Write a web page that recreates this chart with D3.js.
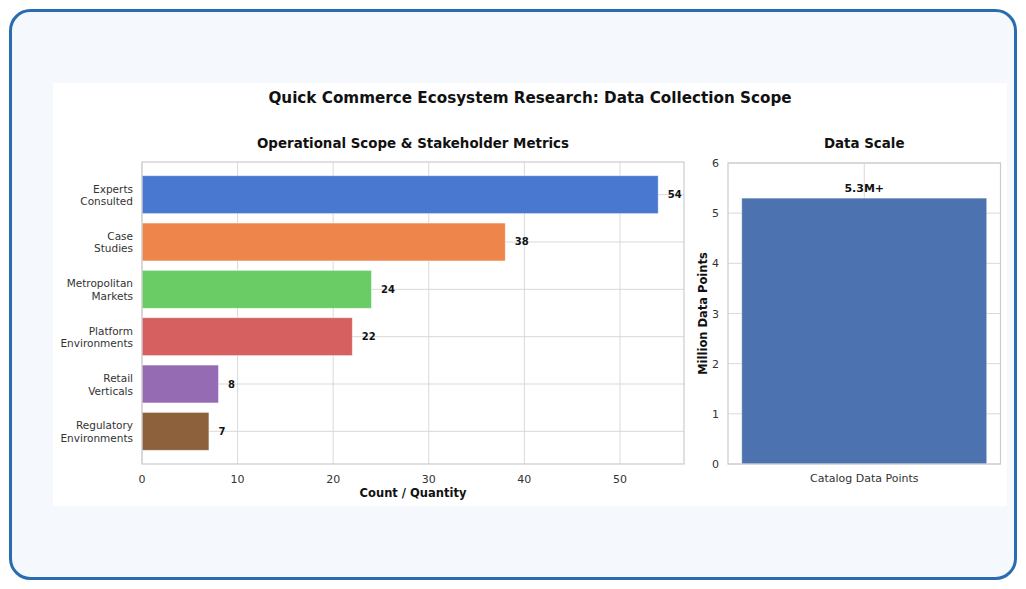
<!DOCTYPE html>
<html>
<head>
<meta charset="utf-8">
<script src="https://cdn.jsdelivr.net/npm/d3@7"></script>
<style>
  html, body { margin: 0; padding: 0; background: #ffffff; }
  svg { display: block; font-family: "DejaVu Sans", sans-serif; }
</style>
</head>
<body>
<svg id="chart" width="1026" height="589"></svg>
<script>
// ---- Data ----
const categories = [
  ["Experts", "Consulted"],
  ["Case", "Studies"],
  ["Metropolitan", "Markets"],
  ["Platform", "Environments"],
  ["Retail", "Verticals"],
  ["Regulatory", "Environments"]
];
const counts = [54, 38, 24, 22, 8, 7];
const barColors = ["#4878d0", "#ee854a", "#6acc64", "#d65f5f", "#956cb4", "#8c613c"];
const xTicks = [0, 10, 20, 30, 40, 50];

const scaleCategories = ["Catalog Data Points"];
const scaleValues = [5.3];
const scaleLabels = ["5.3M+"];
const yTicksRight = [0, 1, 2, 3, 4, 5, 6];

const mainTitle = "Quick Commerce Ecosystem Research: Data Collection Scope";
const leftTitle = "Operational Scope & Stakeholder Metrics";
const rightTitle = "Data Scale";
const leftXLabel = "Count / Quantity";
const rightYLabel = "Million Data Points";

// ---- Frame ----
const svg = d3.select("#chart");
svg.append("rect").attr("x", 0).attr("y", 0).attr("width", 1026).attr("height", 589).attr("fill", "#ffffff");
svg.append("rect")
  .attr("x", 10.5).attr("y", 10.5).attr("width", 1005).attr("height", 568)
  .attr("rx", 20).attr("ry", 20)
  .attr("fill", "#f5f8fc").attr("stroke", "#2a6cb0").attr("stroke-width", 3);
svg.append("rect")
  .attr("x", 53).attr("y", 83).attr("width", 954).attr("height", 423)
  .attr("fill", "#ffffff");

svg.append("text")
  .attr("x", 530).attr("y", 103)
  .attr("text-anchor", "middle")
  .attr("font-size", 15.2).attr("font-weight", "bold").attr("fill", "#111")
  .text(mainTitle);

const gridColor = "#d9d9d9";
const spineColor = "#cccccc";
const tickColor = "#333333";

// ---- Left chart ----
const L = { left: 142, right: 684, top: 162, bottom: 464 };
const x = d3.scaleLinear().domain([0, d3.max(counts) * 1.05]).range([L.left, L.right]);
const y = d3.scaleLinear().domain([-0.69, counts.length - 1 + 0.69]).range([L.top, L.bottom]);
const barH = y(0.4) - y(-0.4);

const gl = svg.append("g");
gl.selectAll(".vg").data(xTicks).enter().append("line")
  .attr("x1", d => x(d)).attr("x2", d => x(d))
  .attr("y1", L.top).attr("y2", L.bottom)
  .attr("stroke", gridColor).attr("stroke-width", 1);
gl.selectAll(".hg").data(counts).enter().append("line")
  .attr("x1", L.left).attr("x2", L.right)
  .attr("y1", (d, i) => y(i)).attr("y2", (d, i) => y(i))
  .attr("stroke", gridColor).attr("stroke-width", 1);
gl.selectAll(".bar").data(counts).enter().append("rect")
  .attr("x", x(0)).attr("y", (d, i) => y(i) - barH / 2)
  .attr("width", d => x(d) - x(0)).attr("height", barH)
  .attr("fill", (d, i) => barColors[i])
  .attr("stroke", "#ffffff").attr("stroke-opacity", 0.5).attr("stroke-width", 0.8);
gl.selectAll(".val").data(counts).enter().append("text")
  .attr("x", d => x(d + 1)).attr("y", (d, i) => y(i) + 3.5)
  .attr("font-size", 10).attr("font-weight", "bold").attr("fill", "#111")
  .text(d => d);
gl.append("rect")
  .attr("x", L.left).attr("y", L.top).attr("width", L.right - L.left).attr("height", L.bottom - L.top)
  .attr("fill", "none").attr("stroke", spineColor).attr("stroke-width", 1.2);
gl.selectAll(".xt").data(xTicks).enter().append("text")
  .attr("x", d => x(d)).attr("y", L.bottom + 19)
  .attr("text-anchor", "middle").attr("font-size", 11).attr("fill", tickColor)
  .text(d => d);
const yl = gl.selectAll(".yt").data(categories).enter().append("text")
  .attr("text-anchor", "end").attr("font-size", 10.5).attr("fill", tickColor)
  .attr("transform", (d, i) => `translate(${L.left - 9},${y(i) - 2})`);
yl.append("tspan").attr("x", 0).attr("dy", 0).text(d => d[0]);
yl.append("tspan").attr("x", 0).attr("dy", 12.5).text(d => d[1]);
gl.append("text")
  .attr("x", (L.left + L.right) / 2).attr("y", 148)
  .attr("text-anchor", "middle").attr("font-size", 13.4).attr("font-weight", "bold").attr("fill", "#111")
  .text(leftTitle);
gl.append("text")
  .attr("x", (L.left + L.right) / 2).attr("y", 497)
  .attr("text-anchor", "middle").attr("font-size", 11.5).attr("font-weight", "bold").attr("fill", "#111")
  .text(leftXLabel);

// ---- Right chart ----
const R = { left: 728, right: 1000.5, top: 163, bottom: 464 };
const xr = d3.scaleLinear().domain([-0.445, 0.445]).range([R.left, R.right]);
const yr = d3.scaleLinear().domain([0, 6]).range([R.bottom, R.top]);

const gr = svg.append("g");
gr.selectAll(".hg").data(yTicksRight).enter().append("line")
  .attr("x1", R.left).attr("x2", R.right)
  .attr("y1", d => yr(d)).attr("y2", d => yr(d))
  .attr("stroke", gridColor).attr("stroke-width", 1);
gr.selectAll(".vg").data(scaleCategories).enter().append("line")
  .attr("x1", (d, i) => xr(i)).attr("x2", (d, i) => xr(i))
  .attr("y1", R.top).attr("y2", R.bottom)
  .attr("stroke", gridColor).attr("stroke-width", 1);
gr.selectAll(".bar").data(scaleValues).enter().append("rect")
  .attr("x", (d, i) => xr(i - 0.4)).attr("y", d => yr(d))
  .attr("width", (d, i) => xr(i + 0.4) - xr(i - 0.4)).attr("height", d => yr(0) - yr(d))
  .attr("fill", "#4c72b0")
  .attr("stroke", "#ffffff").attr("stroke-opacity", 0.5).attr("stroke-width", 0.8);
gr.selectAll(".val").data(scaleValues).enter().append("text")
  .attr("x", (d, i) => xr(i)).attr("y", d => yr(d) - 6)
  .attr("text-anchor", "middle").attr("font-size", 11).attr("font-weight", "bold").attr("fill", "#111")
  .text((d, i) => scaleLabels[i]);
gr.append("rect")
  .attr("x", R.left).attr("y", R.top).attr("width", R.right - R.left).attr("height", R.bottom - R.top)
  .attr("fill", "none").attr("stroke", spineColor).attr("stroke-width", 1.2);
gr.selectAll(".yt").data(yTicksRight).enter().append("text")
  .attr("x", R.left - 9).attr("y", d => yr(d) + 4)
  .attr("text-anchor", "end").attr("font-size", 11).attr("fill", tickColor)
  .text(d => d);
gr.selectAll(".xt").data(scaleCategories).enter().append("text")
  .attr("x", (d, i) => xr(i)).attr("y", R.bottom + 18)
  .attr("text-anchor", "middle").attr("font-size", 11).attr("fill", tickColor)
  .text(d => d);
gr.append("text")
  .attr("transform", `translate(707,${(R.top + R.bottom) / 2}) rotate(-90)`)
  .attr("text-anchor", "middle").attr("font-size", 11.5).attr("font-weight", "bold").attr("fill", "#111")
  .text(rightYLabel);
gr.append("text")
  .attr("x", (R.left + R.right) / 2).attr("y", 148)
  .attr("text-anchor", "middle").attr("font-size", 13.4).attr("font-weight", "bold").attr("fill", "#111")
  .text(rightTitle);
</script>
</body>
</html>
